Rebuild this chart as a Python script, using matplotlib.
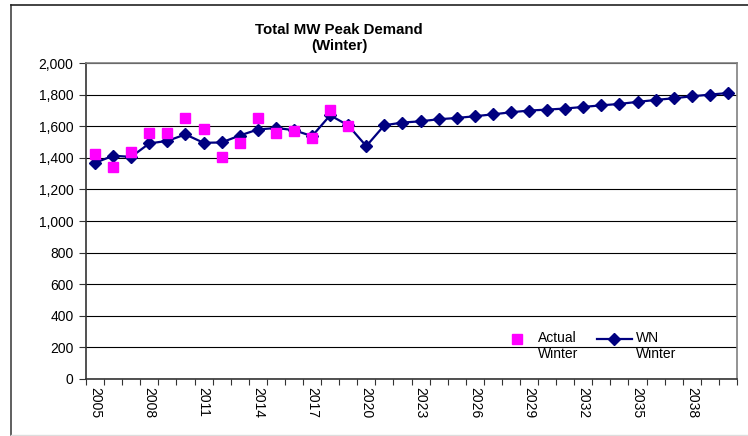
import matplotlib
matplotlib.use("Agg")
import matplotlib.pyplot as plt
from matplotlib.lines import Line2D
import numpy as np

plt.rcParams['font.family'] = ['Liberation Sans', 'DejaVu Sans']

years = list(range(2005, 2041))
wn_winter = [1368, 1413, 1406, 1491, 1507, 1548, 1495, 1497, 1541, 1579, 1589,
             1575, 1537, 1669, 1605, 1474, 1606, 1623, 1631, 1644, 1652, 1663,
             1675, 1688, 1699, 1705, 1712, 1722, 1732, 1741, 1754, 1766, 1777,
             1789, 1800, 1810]
actual_years = list(range(2005, 2020))
actual_winter = [1423, 1343, 1438, 1558, 1558, 1649, 1580, 1406, 1491, 1655,
                 1558, 1571, 1527, 1705, 1600]
yticks = list(range(0, 2001, 200))
title_lines = ["Total MW Peak Demand", "(Winter)"]

fig = plt.figure(figsize=(7.48, 4.36), dpi=100)
ax = fig.add_axes([86/748, 1-379/436, (737-86)/748, (379-63)/436])

xi = {y: i for i, y in enumerate(years)}
x_wn = [xi[y] for y in years]
x_act = [xi[y] for y in actual_years]

ax.plot(x_wn, wn_winter, color='#000080', lw=1.6, marker='D', ms=6,
        label=' \nWN\nWinter', zorder=3)
ax.plot(x_act, actual_winter, ls='none', marker='s', ms=7.5, color='#FF00FF',
        mec='#FF00FF', label=' \nActual\nWinter', zorder=4)

ax.set_xlim(-0.5, len(years) - 0.5)
ax.set_ylim(0, 2000)
ax.set_yticks(yticks)
ax.set_yticklabels([f"{v:,}" for v in yticks], fontsize=10)
ax.yaxis.grid(True, color='#000000', lw=0.8)
ax.set_axisbelow(True)

major = list(range(0, len(years), 3))
ax.set_xticks(major)
ax.set_xticklabels([str(years[i]) for i in major], rotation=270, fontsize=10,
                   va='top', ha='center')
ax.set_xticks(np.arange(-0.5, len(years), 1.0), minor=True)
ax.tick_params(axis='x', which='major', length=0, pad=6)
ax.tick_params(axis='x', which='minor', length=4, width=0.8, color='#333333')
ax.tick_params(axis='y', length=5, width=0.8, color='#333333', pad=4)

for s in ['top', 'right']:
    ax.spines[s].set_color('#808080')
    ax.spines[s].set_linewidth(1.2)
ax.spines['left'].set_color('#333333')
ax.spines['bottom'].set_color('#333333')
ax.spines['left'].set_linewidth(1.2)
ax.spines['bottom'].set_linewidth(1.2)

h, l = ax.get_legend_handles_labels()
ax.legend([h[1], h[0]], [l[1], l[0]], ncol=2, frameon=False, fontsize=10,
          loc='lower left', bbox_to_anchor=(0.616, 0.016), handlelength=2.5,
          columnspacing=1.3, handletextpad=0.3)

fig.text(339/748, 1-30/436, title_lines[0], ha='center', va='center',
         fontsize=10.8, fontweight='bold')
fig.text(339/748, 1-46/436, title_lines[1], ha='center', va='center',
         fontsize=10.8, fontweight='bold')

fig.add_artist(Line2D([11/748, 11/748], [1-5/436, 1-435/436], color='#444444', lw=1.2,
                      transform=fig.transFigure))
fig.add_artist(Line2D([11/748, 1], [1-5/436, 1-5/436], color='#222222', lw=1.2,
                      transform=fig.transFigure))
fig.add_artist(Line2D([11/748, 1], [1-435/436, 1-435/436], color='#dddddd', lw=1.0,
                      transform=fig.transFigure))

fig.savefig('out.png', dpi=100)
